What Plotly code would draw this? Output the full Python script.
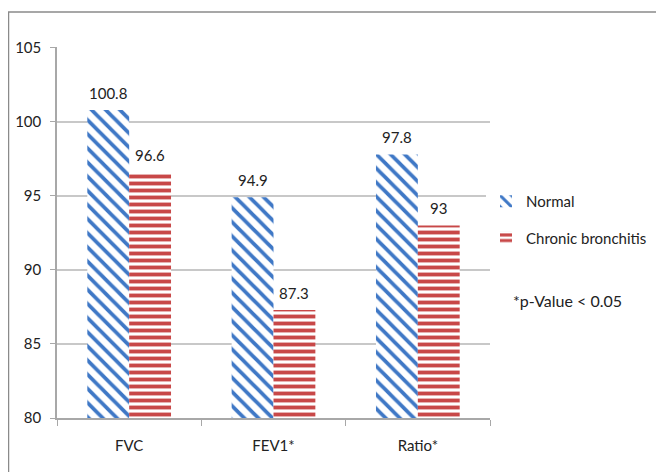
import plotly.graph_objects as go

categories = ["FVC", "FEV1*", "Ratio*"]
normal = [100.8, 94.9, 97.8]
chronic = [96.6, 87.3, 93]
series_names = ["Normal", "Chronic bronchitis"]
y_ticks = [80, 85, 90, 95, 100, 105]

# page body has an 8px margin, so the figure is drawn 8px smaller and shifted
OFF = 8
W, H = 664 - OFF, 472 - OFF
L, R, T, B = 57 - OFF, 174, 47 - OFF, 54
pw, ph = W - L - R, H - T - B
BARGAP = 0.42

blue = "#3f78c6"
red = "#c84848"
font = "Lato, 'Open Sans', sans-serif"

fig = go.Figure()
fig.add_trace(go.Bar(
    x=categories, y=normal, name=series_names[0], legendgroup="a",
    marker=dict(color="white", line=dict(width=0),
                pattern=dict(shape="\\", fgcolor=blue, bgcolor="white", fgopacity=1,
                             size=10, solidity=0.38)),
))
fig.add_trace(go.Bar(
    x=categories, y=chronic, name=series_names[1], legendgroup="b",
    marker=dict(color="white", line=dict(width=0),
                pattern=dict(shape="-", fgcolor=red, bgcolor="white", fgopacity=1,
                             size=7, solidity=0.55)),
))

# data labels above bars
bar_w = pw / len(categories) * (1 - BARGAP) / 2
for vals, sign in ((normal, -1), (chronic, 1)):
    for c, v in zip(categories, vals):
        fig.add_annotation(x=c, y=v, xref="x", yref="y", text=str(v), showarrow=False,
                           xshift=sign * bar_w / 2, yshift=17, yanchor="middle",
                           font=dict(size=15, color="#222", family=font))

def px_x(sx):
    return (sx - OFF - L) / pw

def px_y(sy):
    return (H - B - (sy - OFF)) / ph

fig.add_shape(type="rect", xref="paper", yref="paper",
              x0=px_x(8.5), x1=px_x(663), y0=px_y(12), y1=px_y(490),
              line=dict(color="#8a8a8a", width=1.5), layer="below")

fig.add_annotation(text="*p-Value < 0.05", xref="paper", yref="paper",
                   x=px_x(511), y=px_y(300), xanchor="left", yanchor="middle",
                   showarrow=False, font=dict(size=16, color="#222", family=font))

fig.update_layout(
    width=W, height=H,
    margin=dict(l=L, r=R, t=T, b=B, autoexpand=False),
    paper_bgcolor="white", plot_bgcolor="white",
    barmode="group", bargap=BARGAP, bargroupgap=0,
    font=dict(family=font, size=15, color="#222"),
    showlegend=True,
    legend=dict(x=px_x(486), y=px_y(185), xanchor="left", yanchor="top",
                font=dict(size=15, color="#222"), tracegroupgap=14),
    xaxis=dict(showline=True, linecolor="#a8a8a8", linewidth=1.5,
               ticks="outside", tickson="boundaries", ticklen=6, tickcolor="#a8a8a8",
               tickfont=dict(size=15, color="#222"), ticklabelstandoff=13),
    yaxis=dict(range=[80, 105.05], tickvals=y_ticks, showline=True, linecolor="#a8a8a8", linewidth=1.5,
               ticks="outside", ticklen=5, tickcolor="#a8a8a8",
               gridcolor="#c8c8c8", gridwidth=1.5, zeroline=False,
               tickfont=dict(size=15, color="#222"), ticklabelstandoff=6),
)

fig.write_html("out.html")
